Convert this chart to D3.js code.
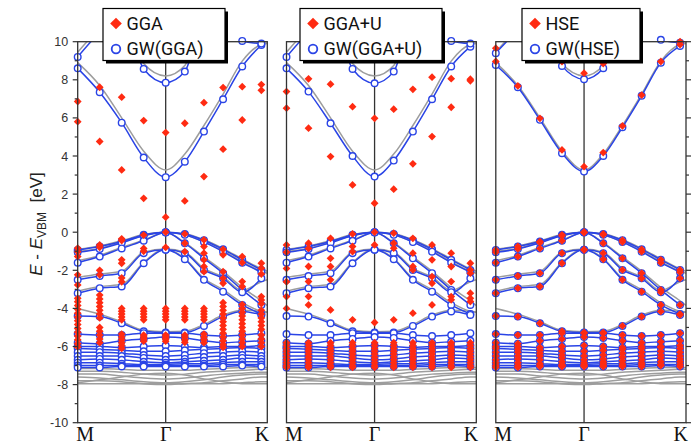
<!DOCTYPE html>
<html>
<head>
<meta charset="utf-8">
<script src="https://cdn.jsdelivr.net/npm/d3@7"></script>
<style>
  body { margin: 0; background: #fff; }
  svg { display: block; font-family: Arial, "Liberation Sans", sans-serif; }
</style>
</head>
<body>
<div id="chart"></div>
<script>

// k-path positions, in units of one M-Gamma grid step
const kPoints = [0, 1, 2, 3, 4, 4.87, 5.74, 6.61, 7.48, 8.35];
const kGray = [0, 1, 2, 3, 4, 4.87, 5.74, 6.61, 7.48, 8.35, 8.62];
const kLabels = [{name: 'M', k: 0}, {name: 'Γ', k: 4}, {name: 'K', k: 8.62}];
const yTicks = [-10, -8, -6, -4, -2, 0, 2, 4, 6, 8, 10];

// gray reference bands (same in all three panels), values at kGray
const grayBands = [
  [8.9, 7.7, 6.0, 4.25, 3.27, 4.1, 5.6, 7.25, 8.98, 9.85, 9.9],
  [9.45, 10.7, 11.6, 8.85, 8.2, 8.75, 11.3, 11.1, 10.15, 9.95, 9.92],
  [-0.9, -0.72, -0.45, -0.12, 0.0, -0.08, -0.4, -0.86, -1.4, -1.92, -2.05],
  [-1.0, -0.85, -0.52, -0.17, 0.0, -0.13, -0.5, -0.98, -1.55, -2.05, -2.15],
  [-1.5, -1.22, -0.8, -0.42, -0.02, -0.55, -1.3, -2.05, -2.9, -3.6, -3.85],
  [-2.38, -2.2, -2.05, -1.05, -0.88, -1.05, -1.9, -2.35, -3.05, -2.6, -2.5],
  [-3.1, -2.85, -2.75, -1.58, -0.88, -1.38, -2.42, -3.02, -3.7, -4.15, -4.2],
  [-4.0, -4.3, -4.7, -5.15, -5.22, -5.2, -4.85, -4.35, -4.1, -4.15, -4.2],
  [-7.15, -7.15, -7.2, -7.25, -7.25, -7.25, -7.2, -7.15, -7.1, -7.1, -7.1],
  [-7.3, -7.3, -7.35, -7.45, -7.5, -7.45, -7.35, -7.3, -7.25, -7.2, -7.2],
  [-7.45, -7.45, -7.55, -7.65, -7.7, -7.65, -7.55, -7.45, -7.4, -7.35, -7.35],
  [-7.6, -7.65, -7.75, -7.85, -7.9, -7.85, -7.75, -7.6, -7.5, -7.45, -7.45],
  [-7.8, -7.8, -7.85, -7.95, -8.0, -7.95, -7.9, -7.8, -7.7, -7.6, -7.6],
  [-7.95, -7.95, -7.95, -7.95, -7.95, -7.95, -7.95, -7.95, -7.9, -7.85, -7.85],
  [-7.9, -7.75, -7.6, -7.45, -7.4, -7.5, -7.7, -7.85, -7.95, -7.95, -7.95]
];

// GW valence bands (look the same in the three panels), values at kPoints
const gwValence = [
  [-0.93, -0.75, -0.49, -0.14, 0.0, -0.09, -0.42, -0.9, -1.45, -1.98],
  [-1.05, -0.88, -0.55, -0.19, 0.0, -0.14, -0.52, -1.02, -1.6, -2.1],
  [-1.6, -1.28, -0.85, -0.45, -0.02, -0.58, -1.37, -2.15, -3.03, -3.82],
  [-2.5, -2.3, -2.15, -1.1, -0.92, -1.1, -1.98, -2.42, -3.15, -2.42],
  [-3.2, -2.94, -2.85, -1.63, -0.92, -1.42, -2.5, -3.12, -3.82, -4.3],
  [-4.4, -4.43, -4.78, -5.2, -5.27, -5.27, -4.92, -4.43, -4.16, -4.34],
  [-5.35, -5.4, -5.4, -5.3, -5.3, -5.3, -5.4, -5.45, -5.4, -5.3],
  [-5.8, -5.85, -5.7, -5.6, -5.5, -5.55, -5.7, -5.8, -5.75, -5.7],
  [-6.0, -6.0, -6.05, -6.0, -5.95, -6.0, -6.05, -6.0, -6.0, -5.95],
  [-6.1, -6.15, -6.2, -6.25, -6.25, -6.2, -6.15, -6.1, -6.05, -6.1],
  [-6.3, -6.3, -6.35, -6.45, -6.5, -6.45, -6.35, -6.3, -6.25, -6.3],
  [-6.5, -6.5, -6.5, -6.6, -6.7, -6.65, -6.55, -6.5, -6.45, -6.5],
  [-6.7, -6.65, -6.7, -6.8, -6.85, -6.8, -6.75, -6.7, -6.6, -6.65],
  [-6.85, -6.85, -6.9, -6.95, -6.95, -6.9, -6.9, -6.85, -6.8, -6.8],
  [-7.0, -7.0, -7.0, -7.0, -7.0, -7.0, -7.0, -6.95, -6.95, -6.95],
  [-7.1, -7.1, -7.05, -7.05, -7.05, -7.05, -7.05, -7.05, -7.0, -7.05]
];

// GW conduction bands per starting point
const gwGgaCond = [
  [8.6, 7.35, 5.75, 3.92, 2.89, 3.7, 5.28, 6.98, 8.7, 9.83],
  [9.2, 10.5, 11.5, 8.57, 7.85, 8.43, 11.2, 11.0, 10.04, 9.9]
];
const gwGgauCond = [
  [8.6, 7.38, 5.72, 4.0, 2.92, 3.76, 5.28, 6.98, 8.7, 9.74],
  [9.2, 10.5, 11.5, 8.57, 7.82, 8.43, 11.2, 11.0, 10.04, 9.9]
];
const gwHseCond = [
  [8.78, 7.61, 5.9, 4.15, 3.18, 4.0, 5.51, 7.16, 8.9, 9.78],
  [9.4, 10.6, 11.6, 8.73, 8.03, 8.61, 11.3, 11.1, 10.1, 9.95]
];

// HSE conduction bands (HSE valence sits on the GW(HSE) circles)
const hseCond = [
  [8.96, 7.68, 5.98, 4.32, 3.44, 4.18, 5.58, 7.2, 8.96, 9.85],
  [9.66, 10.8, 11.8, 8.95, 8.35, 8.85, 11.5, 11.3, 10.2, 10.0]
];

// GGA eigenvalues, one list per k-point
const ggaDots = [
  [6.86, 5.8, -0.84, -1.02, -1.28, -2.24, -2.77, -3.47, -3.65, -3.85, -4.05, -4.25, -4.45, -4.65, -4.85, -5.05, -5.25, -5.45, -5.65, -5.85, -6.02],
  [7.61, 4.76, -0.67, -0.79, -2.0, -2.24, -3.3, -3.5, -3.7, -3.9, -4.1, -4.3, -4.5, -5.0, -5.2, -5.4, -5.6, -5.8],
  [7.09, 3.27, -0.35, -0.44, -1.45, -1.63, -2.4, -2.6, -4.0, -4.15, -4.3, -4.45, -4.6, -5.35, -5.5, -5.65, -5.8, -5.95, -6.1],
  [5.86, 1.78, -0.15, -0.85, -1.0, -4.0, -4.15, -4.3, -4.45, -4.6, -5.4, -5.5, -5.6, -5.72],
  [5.23, 0.79, 0.0, -0.8, -4.0, -4.15, -4.3, -4.45, -4.6, -5.4, -5.5, -5.6, -5.72],
  [5.72, 1.64, -0.09, -0.58, -1.02, -4.0, -4.15, -4.3, -4.45, -4.6, -5.4, -5.52, -5.65, -5.78],
  [6.8, 2.92, -0.4, -0.75, -1.1, -1.45, -1.8, -2.07, -4.0, -4.15, -4.3, -4.45, -4.6, -5.35, -5.5, -5.65, -5.8],
  [7.59, 4.36, -0.9, -1.19, -2.07, -2.42, -2.68, -3.7, -3.9, -4.1, -4.3, -4.5, -4.7, -4.9, -5.1, -5.3, -5.5, -5.7, -5.9, -6.05],
  [7.64, 5.89, -1.28, -1.6, -2.59, -2.85, -3.8, -4.0, -4.2, -4.4, -4.6, -4.8, -5.0, -5.2, -5.4, -5.6, -5.8, -6.0],
  [7.75, 7.45, -1.63, -1.89, -2.2, -3.38, -3.56, -3.75, -4.1, -4.3, -4.5, -4.7, -4.9, -5.1, -5.4, -5.6, -5.8, -6.0]
];

// GGA+U eigenvalues per k-point, plus the d-band block found at every k-point
const ggauDots = [
  [7.38, 6.51, -0.67, -1.05, -1.9, -2.6, -3.38, -4.0],
  [8.05, 5.46, -0.58, -0.85, -1.8, -2.59, -3.38, -3.82],
  [7.77, 3.97, -0.32, -1.37, -1.8, -2.5, -4.08],
  [6.59, 2.48, -0.09, -0.75, -1.02, -4.6],
  [5.98, 1.52, 0.0, -0.67, -4.74],
  [6.46, 2.26, -0.05, -0.58, -0.84, -4.6],
  [7.5, 3.59, -0.32, -1.1, -1.8, -1.98, -4.25],
  [8.14, 5.02, -0.67, -1.45, -2.33, -2.68, -3.82],
  [8.06, 6.56, -1.1, -1.8, -2.59, -3.38, -3.55],
  [8.03, 7.95, -1.63, -1.98, -2.15, -3.2, -3.47, -3.64]
];
const ggauD = [-5.8, -5.95, -6.1, -6.25, -6.4, -6.55, -6.7, -6.85, -7.0, -7.1];

const legendNames = [['GGA', 'GW(GGA)'], ['GGA+U', 'GW(GGA+U)'], ['HSE', 'GW(HSE)']];

const blue = '#2a44e6', red = '#ff2b12', gray = '#9d9d9d', frame = '#333';

// turn band lists or per-k lists into flat [k, E] points
function bandPoints(bands) {
    let pts = [];
    bands.forEach(b => b.forEach((e, i) => pts.push([kPoints[i], e])));
    return pts;
}
function perKPoints(lists, extra) {
    let pts = [];
    lists.forEach((l, i) => {
        l.concat(extra || []).forEach(e => pts.push([kPoints[i], e]));
    });
    return pts;
}

const panels = [
    {left: 77.7, right: 267.3, legendX: 103, legendW: 122,
     blueBands: gwGgaCond.concat(gwValence), redPts: perKPoints(ggaDots)},
    {left: 286.5, right: 476.3, legendX: 300, legendW: 142,
     blueBands: gwGgauCond.concat(gwValence), redPts: perKPoints(ggauDots, ggauD)},
    {left: 495.8, right: 686, legendX: 522, legendW: 118,
     blueBands: gwHseCond.concat(gwValence), redPts: bandPoints(hseCond.concat(gwValence))}
];

const W = 694, H = 446;
const svg = d3.select('#chart').append('svg')
    .attr('width', W).attr('height', H);

const y = d3.scaleLinear().domain([-10, 10]).range([422.7, 41.7]);

const diamond = s => `M0,${-s}L${s},0L0,${s}L${-s},0Z`;

panels.forEach((p, pi) => {
    const x = d3.scaleLinear().domain([0, 8.62]).range([p.left, p.right]);
    const g = svg.append('g');

    svg.append('clipPath').attr('id', 'clip' + pi)
        .append('rect')
        .attr('x', p.left).attr('y', y(10))
        .attr('width', p.right - p.left).attr('height', y(-10) - y(10));

    // Gamma line
    g.append('line')
        .attr('x1', x(4)).attr('x2', x(4))
        .attr('y1', y(10)).attr('y2', y(-10))
        .attr('stroke', frame).attr('stroke-width', 1.3);

    const bands = g.append('g').attr('clip-path', `url(#clip${pi})`);

    const grayLine = d3.line()
        .x((d, i) => x(kGray[i])).y(d => y(d))
        .curve(d3.curveMonotoneX);
    bands.selectAll('path.gray')
        .data(grayBands)
        .enter().append('path')
        .attr('class', 'gray')
        .attr('d', grayLine)
        .attr('fill', 'none').attr('stroke', gray).attr('stroke-width', 1.5);

    const blueLine = d3.line()
        .x((d, i) => x(kPoints[i])).y(d => y(d))
        .curve(d3.curveMonotoneX);
    bands.selectAll('path.blue')
        .data(p.blueBands)
        .enter().append('path')
        .attr('class', 'blue')
        .attr('d', blueLine)
        .attr('fill', 'none').attr('stroke', blue).attr('stroke-width', 1.5);

    g.selectAll('circle.gw')
        .data(bandPoints(p.blueBands).filter(d => d[1] <= 10.15))
        .enter().append('circle')
        .attr('class', 'gw')
        .attr('cx', d => x(d[0])).attr('cy', d => y(d[1]))
        .attr('r', 3.3)
        .attr('fill', '#fff').attr('stroke', blue).attr('stroke-width', 1.4);

    g.selectAll('path.dft')
        .data(p.redPts.filter(d => d[1] <= 10.15))
        .enter().append('path')
        .attr('class', 'dft')
        .attr('d', diamond(3.9))
        .attr('transform', d => `translate(${x(d[0])},${y(d[1])})`)
        .attr('fill', red);

    // frame
    g.append('rect')
        .attr('x', p.left).attr('y', y(10))
        .attr('width', p.right - p.left).attr('height', y(-10) - y(10))
        .attr('fill', 'none').attr('stroke', frame).attr('stroke-width', 1.3);

    // k labels
    g.selectAll('text.k')
        .data(kLabels)
        .enter().append('text')
        .attr('class', 'k')
        .attr('x', d => d.k === 0 ? x(d.k) - 1.5 : (d.k === 4 ? x(d.k) : x(d.k) + 2))
        .attr('y', 441)
        .attr('text-anchor', d => d.k === 0 ? 'start' : (d.k === 4 ? 'middle' : 'end'))
        .attr('font-family', '"Liberation Serif", "Times New Roman", serif')
        .attr('font-size', 20)
        .attr('fill', '#111')
        .text(d => d.name);

    // outer y axes
    if (pi === 0 || pi === 2) {
        const side = pi === 0 ? -1 : 1;
        const edge = pi === 0 ? p.left : p.right;
        const minor = d3.range(-9, 10, 2);
        g.selectAll('line.major')
            .data(yTicks).enter().append('line')
            .attr('x1', edge).attr('x2', edge + side * 5)
            .attr('y1', d => y(d)).attr('y2', d => y(d))
            .attr('stroke', frame).attr('stroke-width', 1.2);
        g.selectAll('line.minor')
            .data(minor).enter().append('line')
            .attr('x1', edge).attr('x2', edge + side * 3)
            .attr('y1', d => y(d)).attr('y2', d => y(d))
            .attr('stroke', frame).attr('stroke-width', 1.2);
        if (pi === 0) {
            g.selectAll('text.tick')
                .data(yTicks).enter().append('text')
                .attr('x', edge - 9.5).attr('y', d => y(d))
                .attr('dy', '0.36em')
                .attr('text-anchor', 'end')
                .attr('font-size', 12.5)
                .attr('fill', '#333')
                .text(d => d);
        }
    }
});

// y label
const ylab = svg.append('text')
    .attr('transform', 'translate(42,224) rotate(-90)')
    .attr('text-anchor', 'middle')
    .attr('font-size', 17)
    .attr('fill', '#222')
    .style('white-space', 'pre');
ylab.append('tspan').attr('font-style', 'italic').text('E');
ylab.append('tspan').text(' - ');
ylab.append('tspan').attr('font-style', 'italic').text('E');
ylab.append('tspan').attr('font-size', 12).attr('dy', 4).text('VBM');
ylab.append('tspan').attr('dy', -4).text('  [eV]');

// legends
panels.forEach((p, pi) => {
    const lg = svg.append('g');
    lg.append('rect')
        .attr('x', p.legendX + 3).attr('y', 8.5 + 3)
        .attr('width', p.legendW).attr('height', 52)
        .attr('fill', '#000');
    lg.append('rect')
        .attr('x', p.legendX).attr('y', 8.5)
        .attr('width', p.legendW).attr('height', 52)
        .attr('fill', '#fff').attr('stroke', '#000').attr('stroke-width', 1.2);
    lg.append('path')
        .attr('d', diamond(5.8))
        .attr('transform', `translate(${p.legendX + 13},23.5)`)
        .attr('fill', red);
    lg.append('circle')
        .attr('cx', p.legendX + 13).attr('cy', 49)
        .attr('r', 4.3)
        .attr('fill', '#fff').attr('stroke', blue).attr('stroke-width', 1.8);
    lg.selectAll('text')
        .data(legendNames[pi]).enter().append('text')
        .attr('x', p.legendX + 23.5)
        .attr('y', (d, i) => i === 0 ? 30 : 55)
        .attr('font-family', 'Roboto, Arial, sans-serif')
        .attr('font-size', 18)
        .attr('fill', '#111')
        .text(d => d);
});

</script>
</body>
</html>
